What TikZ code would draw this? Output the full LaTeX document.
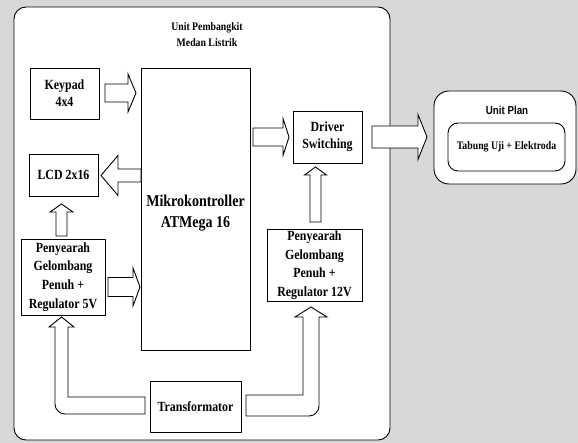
\documentclass[tikz,border=0pt]{standalone}
\usepackage{fontspec}
\newfontfamily\tnr{Liberation Serif}[FakeStretch=0.85]
\newfontfamily\arl{Liberation Sans}[FakeStretch=0.85]
\definecolor{bg}{RGB}{216,216,216}
% #1 start x, #2 head base x, #3 tip x, #4 y, #5 shaft half, #6 head half
\newcommand\hblockarrow[6]{\draw[blk] (#1,#4-#5) -- (#2,#4-#5) -- (#2,#4-#6) -- (#3,#4) -- (#2,#4+#6) -- (#2,#4+#5) -- (#1,#4+#5) -- cycle;}
% #1 x, #2 start y, #3 head base y, #4 tip y, #5 shaft half, #6 head half
\newcommand\vblockarrow[6]{\draw[blk] (#1-#5,#2) -- (#1-#5,#3) -- (#1-#6,#3) -- (#1,#4) -- (#1+#6,#3) -- (#1+#5,#3) -- (#1+#5,#2) -- cycle;}
\begin{document}
\begin{tikzpicture}[x=1pt,y=-1pt,line width=0.9pt,
  box/.style={draw,fill=white,align=center,inner sep=0pt,
    font=\tnr\bfseries\fontsize{14}{17}\selectfont},
  blk/.style={draw,fill=white,line join=miter},
  frame/.style={draw,fill=white,rounded corners=#1,inner sep=0pt}]
\useasboundingbox[fill=bg] (0,0) rectangle (578,443);
% outer unit
\node[frame=12,minimum width=376,minimum height=433] (unitpb) at (202,223.5) {};
\node[align=center,font=\tnr\bfseries\fontsize{11.5}{16}\selectfont] (title) at (207,35) {Unit Pembangkit\\Medan Listrik};
% blocks
\node[box,minimum width=69,minimum height=51] (kp) at (64.5,93.5) {Keypad\\4x4};
\node[box,minimum width=109,minimum height=282,
  label={[align=center,font=\tnr\bfseries\fontsize{16.5}{21}\selectfont,yshift=-4pt]center:Mikrokontroller\\ATMega 16}] (mcu) at (195.5,209) {};
\node[box,minimum width=69,minimum height=42] (lcd) at (63.5,175) {LCD 2x16};
\node[box,minimum width=84,minimum height=76,font=\tnr\bfseries\fontsize{14}{18.8}\selectfont] (ps5) at (63,277) {Penyearah\\Gelombang\\Penuh +\\Regulator 5V};
\node[box,minimum width=91,minimum height=51] (tr) at (195.5,406.5) {Transformator};
\node[box,minimum width=95,minimum height=72,font=\tnr\bfseries\fontsize{14}{18.6}\selectfont] (ps12) at (314.5,265) {Penyearah\\Gelombang\\Penuh +\\Regulator 12V};
\node[box,minimum width=69,minimum height=52] (drv) at (327.5,137) {Driver\\Switching};
% unit plan
\node[frame=15,minimum width=142,minimum height=93] (plan) at (505,137.5) {};
\node[font=\arl\bfseries\fontsize{11.5}{14}\selectfont] (plantitle) at (507,110) {Unit Plan};
\node[frame=10,minimum width=117,minimum height=48,font=\tnr\bfseries\fontsize{11.5}{14}\selectfont] (tu) at (506.5,147) {Tabung Uji + Elektroda};
% block arrows
\hblockarrow{105}{128}{136}{93}{9}{19}
\hblockarrow{141}{118}{101}{175.5}{6.5}{20}
\vblockarrow{61.5}{236}{212}{204}{5.5}{11.5}
\hblockarrow{108}{133}{140}{287}{9.5}{19}
\hblockarrow{253}{283}{289}{137}{9}{18.5}
\vblockarrow{315.5}{222}{175}{167}{5.5}{11}
\hblockarrow{372}{418}{427}{137}{11}{22.5}
% bent arrows from transformator
\draw[blk] (145,397) -- (68,397) -- (68,327) -- (74,327) -- (61.5,317) -- (49,327) -- (55,327) -- (55,404)
  .. controls (55,409.5) and (59.5,414) .. (65,414) -- (145,414) -- cycle;
\draw[blk] (246,395) -- (303,395) -- (303,317) -- (295,317) -- (311,307) -- (327,317) -- (319,317) -- (319,406)
  .. controls (319,411.5) and (314.5,416) .. (309,416) -- (246,416) -- cycle;
\end{tikzpicture}
\end{document}
